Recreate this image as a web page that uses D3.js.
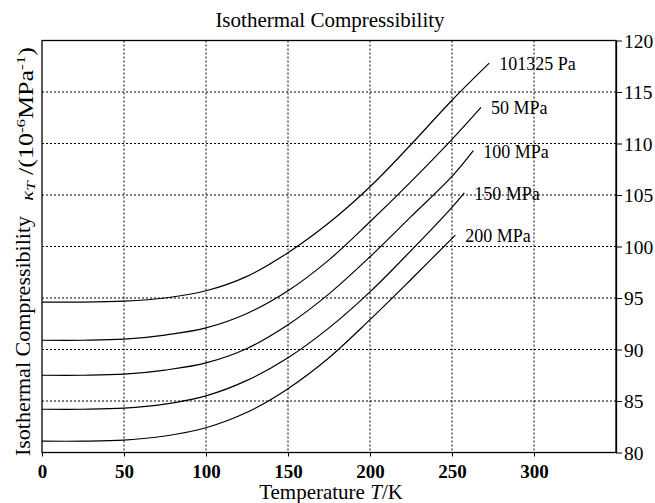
<!DOCTYPE html>
<html>
<head>
<meta charset="utf-8">
<script src="https://cdn.jsdelivr.net/npm/d3@7"></script>
<style>
body { margin: 0; background: #fff; }
text { font-family: "Liberation Serif", "Times New Roman", serif; fill: #000; }
</style>
</head>
<body>
<svg id="chart" width="655" height="503"></svg>
<script>
// values, kT in 10^-6 MPa^-1
var pressures = ["101325 Pa", "50 MPa", "100 MPa", "150 MPa", "200 MPa"];
var temperature = [0, 25, 50, 75, 100, 125, 150, 175, 200, 225, 250];
var kappa101325 = [94.6, 94.6, 94.7, 95.0, 95.7, 97.1, 99.4, 102.3, 105.8, 109.9, 114.2];
var kappa50 = [90.9, 90.9, 91.0, 91.4, 92.1, 93.5, 95.7, 98.7, 102.4, 106.3, 110.4];
var kappa100 = [87.5, 87.5, 87.6, 88.0, 88.7, 90.1, 92.4, 95.4, 99.0, 102.9, 106.8];
var kappa150 = [84.2, 84.2, 84.3, 84.7, 85.5, 87.0, 89.2, 92.1, 95.6, 99.6, 103.8];
var kappa200 = [81.1, 81.1, 81.2, 81.6, 82.4, 83.9, 86.2, 89.2, 92.9, 96.8, 100.7];
var endTemperature = [272.7, 267.7, 263, 257.5, 252];
var endKappa = [117.8, 113.5, 109.3, 105.2, 101.1];
var xTicks = [0, 50, 100, 150, 200, 250, 300];
var yTicks = [80, 85, 90, 95, 100, 105, 110, 115, 120];

var allKappa = [kappa101325, kappa50, kappa100, kappa150, kappa200];

var svg = d3.select('#chart');
var x = d3.scaleLinear().domain([0, 350]).range([42, 616]);
var y = d3.scaleLinear().domain([80, 120]).range([452.5, 40.5]);

// dotted grid
svg.append('g').selectAll('line').data(xTicks.slice(1))
	.enter().append('line')
	.attr('x1', function(d) { return x(d); }).attr('x2', function(d) { return x(d); })
	.attr('y1', y(120)).attr('y2', y(80))
	.attr('stroke', '#000').attr('stroke-width', 1).attr('stroke-dasharray', '2,2');
svg.append('g').selectAll('line').data(yTicks.slice(1, -1))
	.enter().append('line')
	.attr('x1', x(0)).attr('x2', x(350))
	.attr('y1', function(d) { return y(d); }).attr('y2', function(d) { return y(d); })
	.attr('stroke', '#000').attr('stroke-width', 1).attr('stroke-dasharray', '2,2');

// frame
svg.append('rect')
	.attr('x', x(0)).attr('y', y(120))
	.attr('width', x(350) - x(0)).attr('height', y(80) - y(120))
	.attr('fill', 'none').attr('stroke', '#000').attr('stroke-width', 1.3);

// bottom axis
var xAxis = svg.append('g')
	.attr('transform', 'translate(0,' + y(80) + ')')
	.call(d3.axisBottom(x).tickValues(xTicks).tickSizeInner(4).tickSizeOuter(0));
xAxis.select('.domain').remove();
xAxis.selectAll('text')
	.attr('y', 25).attr('dy', 0)
	.style('font-size', '19px').style('font-weight', 'bold');

// right axis
var yAxis = svg.append('g')
	.attr('transform', 'translate(' + x(350) + ',0)')
	.call(d3.axisRight(y).tickValues(yTicks).tickSizeInner(6).tickSizeOuter(0).tickPadding(2));
yAxis.select('.domain').attr('stroke-width', 1.3);
yAxis.selectAll('text')
	.attr('dy', '0.34em')
	.style('font-size', '19.5px');

// curves
var line = d3.line()
	.x(function(d) { return x(d[0]); })
	.y(function(d) { return y(d[1]); })
	.curve(d3.curveCatmullRom.alpha(0.5));

allKappa.forEach(function(vals, i) {
	var pts = [];
	temperature.forEach(function(t, j) {
		if (t < endTemperature[i] - 3) pts.push([t, vals[j]]);
	});
	pts.push([endTemperature[i], endKappa[i]]);
	svg.append('path')
		.attr('d', line(pts))
		.attr('fill', 'none')
		.attr('stroke', '#000')
		.attr('stroke-width', 1.2);
	svg.append('text')
		.attr('x', x(endTemperature[i]) + 10)
		.attr('y', y(endKappa[i]) + 7)
		.style('font-size', '18px')
		.text(pressures[i]);
});

// titles
svg.append('text')
	.attr('x', 330).attr('y', 27)
	.attr('text-anchor', 'middle')
	.style('font-size', '21px')
	.text('Isothermal Compressibility');

var xl = svg.append('text')
	.attr('x', 331).attr('y', 499)
	.attr('text-anchor', 'middle')
	.style('font-size', '21px');
xl.append('tspan').text('Temperature ');
xl.append('tspan').style('font-style', 'italic').text('T');
xl.append('tspan').text('/K');

svg.append('text')
	.attr('transform', 'translate(30,336) rotate(-90)')
	.attr('text-anchor', 'middle')
	.style('font-size', '22px')
	.text('Isothermal Compressibility');

// the scan stretches this label along its length
var kl = svg.append('text')
	.attr('transform', 'translate(33,124) rotate(-90) scale(1.3,1)')
	.attr('text-anchor', 'middle')
	.style('font-size', '20px');
kl.append('tspan').style('font-style', 'italic').style('font-size', '16px').text('κ');
kl.append('tspan').style('font-style', 'italic').style('font-size', '13px').attr('dy', 2).text('T');
kl.append('tspan').attr('dy', -2).text(' /(10');
kl.append('tspan').style('font-size', '13px').attr('dy', -8).text('-6');
kl.append('tspan').attr('dy', 8).text('MPa');
kl.append('tspan').style('font-size', '13px').attr('dy', -8).text('-1');
kl.append('tspan').attr('dy', 8).text(')');
</script>
</body>
</html>
